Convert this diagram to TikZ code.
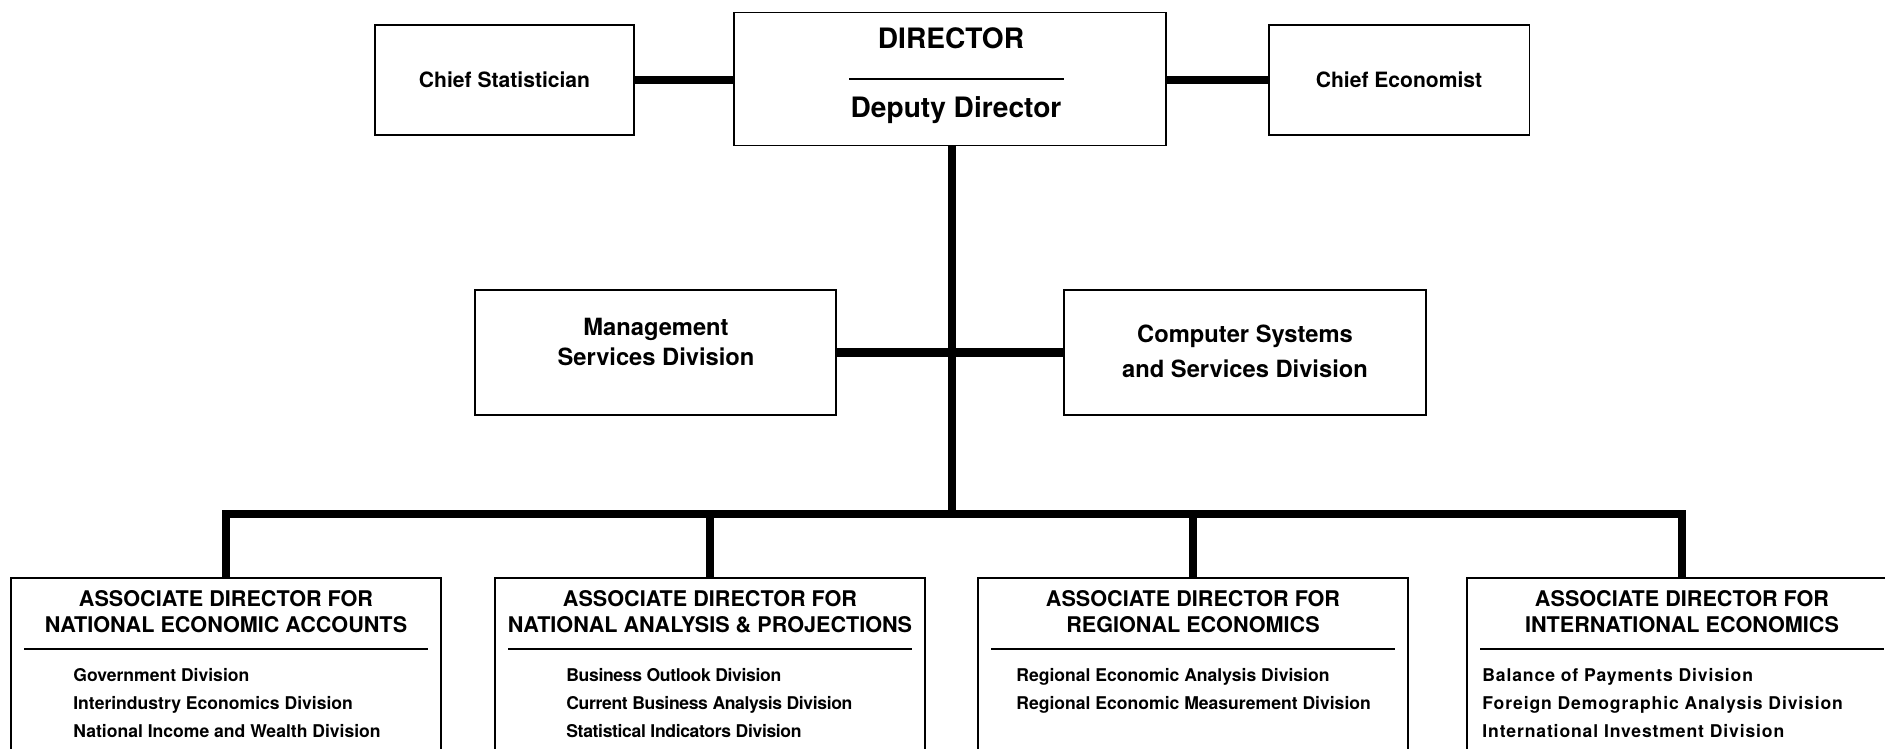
\documentclass[tikz,border=0pt]{standalone}
\usepackage{fontspec}
\setmainfont{TeX Gyre Heros}
\tikzstyle{office} = [draw,line width=1.1pt,inner sep=0pt]
\tikzstyle{link} = [line width=4.6pt]
\tikzstyle{divider} = [line width=0.9pt]
\tikzstyle{chieftext} = [font=\bfseries\fontsize{12}{14}\selectfont]
\tikzstyle{headtext} = [font=\bfseries\fontsize{16}{19}\selectfont,inner sep=0pt,anchor=base]
\tikzstyle{divtext} = [font=\bfseries\fontsize{13.5}{17}\selectfont,align=center,inner sep=0pt]
\tikzstyle{assoctext} = [font=\bfseries\fontsize{12.3}{15}\selectfont,align=center,inner sep=0pt,anchor=north]
\tikzstyle{listtext} = [align=left,inner sep=0pt,anchor=north west]
\begin{document}
\begin{tikzpicture}[x=0.02cm,y=-0.02cm]
\useasboundingbox (0,0) rectangle (1885,748);
\node[office,minimum width=8.64cm,minimum height=2.66cm] at (950,79) (dir) {};
\node[headtext] at (951,48.5) (dirname) {DIRECTOR};
\draw[divider] (849,79) -- (1064,79);
\node[headtext] at (956,117) (deputy) {Deputy Director};
\node[office,chieftext,minimum width=5.18cm,minimum height=2.2cm] at (504.5,80) (stat) {Chief Statistician};
\node[office,chieftext,minimum width=5.22cm,minimum height=2.2cm] at (1399,80) (econ) {Chief Economist};
\draw[link] (stat.east) -- (stat.east -| dir.west);
\draw[link] (econ.west) -- (econ.west -| dir.east);

\node[office,minimum width=7.22cm,minimum height=2.5cm] at (655.5,352.5) (mgmt) {};
\node[divtext] at (656,342) (mgmtname) {Management\\Services Division};
\node[office,minimum width=7.24cm,minimum height=2.5cm] at (1245,352.5) (comp) {};
\node[divtext] at (1245,351.5) (compname) {Computer Systems\\[2.8pt]and Services Division};
\coordinate (bus) at (952,514);
\draw[link] (bus |- dir.south) -- (bus);
\draw[link] (mgmt.east) -- (comp.west);

\foreach \i/\x/\lx/\sp/\field/\units in {
	1/226/73/0/{NATIONAL ECONOMIC ACCOUNTS}/{Government Division\\Interindustry Economics Division\\National Income and Wealth Division},
	2/710/566/-2/{NATIONAL ANALYSIS \& PROJECTIONS}/{Business Outlook Division\\Current Business Analysis Division\\Statistical Indicators Division},
	3/1193/1016/0/{REGIONAL ECONOMICS}/{Regional Economic Analysis Division\\Regional Economic Measurement Division},
	4/1682/1482/5/{INTERNATIONAL ECONOMICS}/{Balance of Payments Division\\Foreign Demographic Analysis Division\\International Investment Division}} {
	\node[office,minimum width=8.6cm,minimum height=3.7cm,anchor=north] at (\x,577) (assoc\i) {};
	\node[assoctext] at (\x,590) (title\i) {ASSOCIATE DIRECTOR FOR\\\field};
	\draw[divider] (\x-202,649) -- (\x+202,649);
	\node[listtext,font=\bfseries\fontsize{10}{15.9}\selectfont\addfontfeatures{LetterSpace=\sp}] at (\lx,668) (list\i) {\units};
}
\draw[link] (assoc1.north) |- (bus) -| (assoc4.north);
\draw[link] (assoc2.north) -- (assoc2.north |- bus);
\draw[link] (assoc3.north) -- (assoc3.north |- bus);
\end{tikzpicture}
\end{document}
